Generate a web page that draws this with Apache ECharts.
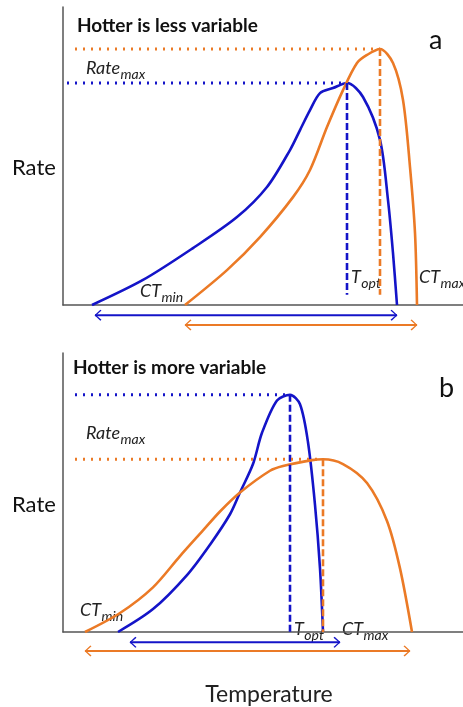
<!DOCTYPE html>
<html>
<head>
<meta charset="utf-8">
<script src="https://cdn.jsdelivr.net/npm/echarts@6/dist/echarts.min.js"></script>
<style>
  html, body { margin: 0; padding: 0; background: #fff; }
  #chart { width: 463px; height: 707px; }
</style>
</head>
<body>
<div id="chart"></div>
<script>
// panel a: hotter is less variable (temperature 0-100, rate 0-100)
const tempBlueA = [7.25, 20, 32.5, 43.5, 51, 56.75, 59.25, 61.75, 64.25, 67.5, 71, 75, 79.25, 81.25, 82.5, 83.5];
const rateBlueA = [0, 8.4, 19.1, 29.5, 39.6, 52, 58.7, 65.4, 71.1, 72.8, 74.5, 69.8, 55.4, 35.2, 17.4, 0];
const tempOrangeA = [30.5, 41, 49.25, 57.5, 61.75, 66, 70, 73.5, 76, 79.25, 82.5, 85, 86.75, 88, 88.5];
const rateOrangeA = [0, 11.7, 22.8, 36.2, 45.3, 59.7, 72.1, 81.2, 83.9, 85.9, 81.2, 68.8, 46.3, 24.2, 0];
const rangeBlueA = [8, 83.5];
const rangeOrangeA = [30.5, 88.5];

// panel b: hotter is more variable
const tempBlueB = [13.75, 22.5, 31, 36.75, 41.75, 44.25, 47.5, 49.75, 53.5, 56.75, 59.25, 61.25, 63, 64.25, 65];
const rateBlueB = [0, 8.2, 20.4, 31.3, 42.2, 50, 60.2, 71.4, 83, 85, 81.6, 68, 45.6, 22.8, 0];
const tempOrangeB = [5.5, 14.25, 22.5, 29.25, 35, 39.25, 44.25, 51.75, 55, 62.25, 65, 70, 76, 81, 84.25, 87.25];
const rateOrangeB = [0, 6.8, 16, 27.2, 36.4, 43.2, 50, 57.8, 59.5, 61.6, 61.9, 60.2, 53.4, 39.8, 22.8, 0];
const rangeBlueB = [16.75, 69.25];
const rangeOrangeB = [5.5, 86.75];

const BLUE = '#1414c8';
const ORANGE = '#eb7a26';
const FONT = 'Lato, "Open Sans", sans-serif';

const leftHead = 'path://M10,0 L12,1.6 L3,10 L12,18.4 L10,20 L0,10 Z';
const rightHead = 'path://M2,0 L0,1.6 L9,10 L0,18.4 L2,20 L12,10 Z';

function zip(xs, ys) { return xs.map((x, i) => [x, ys[i]]); }

function peak(xs, ys) {
    let k = 0;
    ys.forEach((y, i) => { if (y > ys[k]) k = i; });
    return [xs[k], ys[k]];
}

function curve(xs, ys, color, idx) {
    return {
        type: 'line', xAxisIndex: idx, yAxisIndex: idx,
        data: zip(xs, ys), smooth: 0.3,
        showSymbol: false, lineStyle: { color: color, width: 2.6 }
    };
}

function refLines(xs, ys, color, idx, dotStart, dashEnd) {
    const p = peak(xs, ys);
    return [{
        type: 'line', xAxisIndex: idx, yAxisIndex: idx,
        data: [[dotStart, p[1]], p], showSymbol: false,
        lineStyle: { color: color, width: 3, type: [2, 6] }
    }, {
        type: 'line', xAxisIndex: idx, yAxisIndex: idx,
        data: [p, [p[0], dashEnd]], showSymbol: false,
        lineStyle: { color: color, width: 2.6, type: [7, 3] }
    }];
}

function arrow(range, level, color, idx) {
    return {
        type: 'line', xAxisIndex: idx, yAxisIndex: idx, clip: false,
        data: [
            { value: [range[0], level], symbol: leftHead, symbolSize: [7, 11], symbolOffset: [3, 0] },
            { value: [range[1], level], symbol: rightHead, symbolSize: [7, 11], symbolOffset: [-3, 0] }
        ],
        showSymbol: true, itemStyle: { color: color },
        lineStyle: { color: color, width: 2 }
    };
}

const axisLine = { show: true, lineStyle: { color: '#555', width: 1.5 } };
function xAx(idx, name) {
    return {
        type: 'value', gridIndex: idx, min: 0, max: 100,
        axisLine: axisLine, axisTick: { show: false }, axisLabel: { show: false },
        splitLine: { show: false },
        name: name, nameLocation: 'middle', nameGap: 51,
        nameTextStyle: { fontFamily: FONT, fontSize: 23, color: '#222', padding: [0, 0, 0, 12] }
    };
}
function yAx(idx) {
    return {
        type: 'value', gridIndex: idx, min: 0, max: 100,
        axisLine: axisLine, axisTick: { show: false }, axisLabel: { show: false },
        splitLine: { show: false }
    };
}

// italic label with a lowered subscript, e.g. CT_min
const ctx = document.createElement('canvas').getContext('2d');
function label(x, y, main, sub) {
    ctx.font = 'italic 18px ' + FONT;
    const w = ctx.measureText(main).width;
    return [{
        type: 'text', x: x, y: y, silent: true,
        style: { text: main, fontFamily: FONT, fontStyle: 'italic', fontSize: 18, fill: '#222', verticalAlign: 'middle' }
    }, {
        type: 'text', x: x + w + 0.5, y: y + 6, silent: true,
        style: { text: sub, fontFamily: FONT, fontStyle: 'italic', fontSize: 14, fill: '#222', verticalAlign: 'middle' }
    }];
}
function plain(x, y, text, size, weight) {
    return {
        type: 'text', x: x, y: y, silent: true,
        style: { text: text, fontFamily: FONT, fontSize: size, fontWeight: weight || 'normal', fill: '#111', verticalAlign: 'middle' }
    };
}

const chart = echarts.init(document.getElementById('chart'));
chart.setOption({
    animation: false,
    backgroundColor: '#fff',
    grid: [
        { left: 63, top: 7, width: 400, height: 298 },
        { left: 63, top: 353, width: 400, height: 294 }
    ],
    xAxis: [xAx(0, ''), xAx(1, 'Temperature')],
    yAxis: [yAx(0), yAx(1)],
    series: [
        curve(tempBlueA, rateBlueA, BLUE, 0),
        curve(tempOrangeA, rateOrangeA, ORANGE, 0),
        ...refLines(tempBlueA, rateBlueA, BLUE, 0, 1, 3.4),
        ...refLines(tempOrangeA, rateOrangeA, ORANGE, 0, 3, 3.4),
        arrow(rangeBlueA, -3.4, BLUE, 0),
        arrow(rangeOrangeA, -6.7, ORANGE, 0),
        curve(tempBlueB, rateBlueB, BLUE, 1),
        curve(tempOrangeB, rateOrangeB, ORANGE, 1),
        ...refLines(tempBlueB, rateBlueB, BLUE, 1, 3, 0),
        ...refLines(tempOrangeB, rateOrangeB, ORANGE, 1, 3, 0),
        arrow(rangeBlueB, -3.7, BLUE, 1),
        arrow(rangeOrangeB, -6.8, ORANGE, 1)
    ],
    graphic: [
        plain(77, 26, 'Hotter is less variable', 19, 'bold'),
        plain(429, 40, 'a', 27),
        plain(12, 168, 'Rate', 22),
        ...label(86, 68, 'Rate', 'max'),
        ...label(140, 291, 'CT', 'min'),
        ...label(351, 277, 'T', 'opt'),
        ...label(419, 277, 'CT', 'max'),
        plain(73, 368, 'Hotter is more variable', 19, 'bold'),
        plain(439, 388, 'b', 27),
        plain(12, 505, 'Rate', 22),
        ...label(86, 433, 'Rate', 'max'),
        ...label(80, 610, 'CT', 'min'),
        ...label(294, 629, 'T', 'opt'),
        ...label(342, 629, 'CT', 'max')
    ]
});
</script>
</body>
</html>
